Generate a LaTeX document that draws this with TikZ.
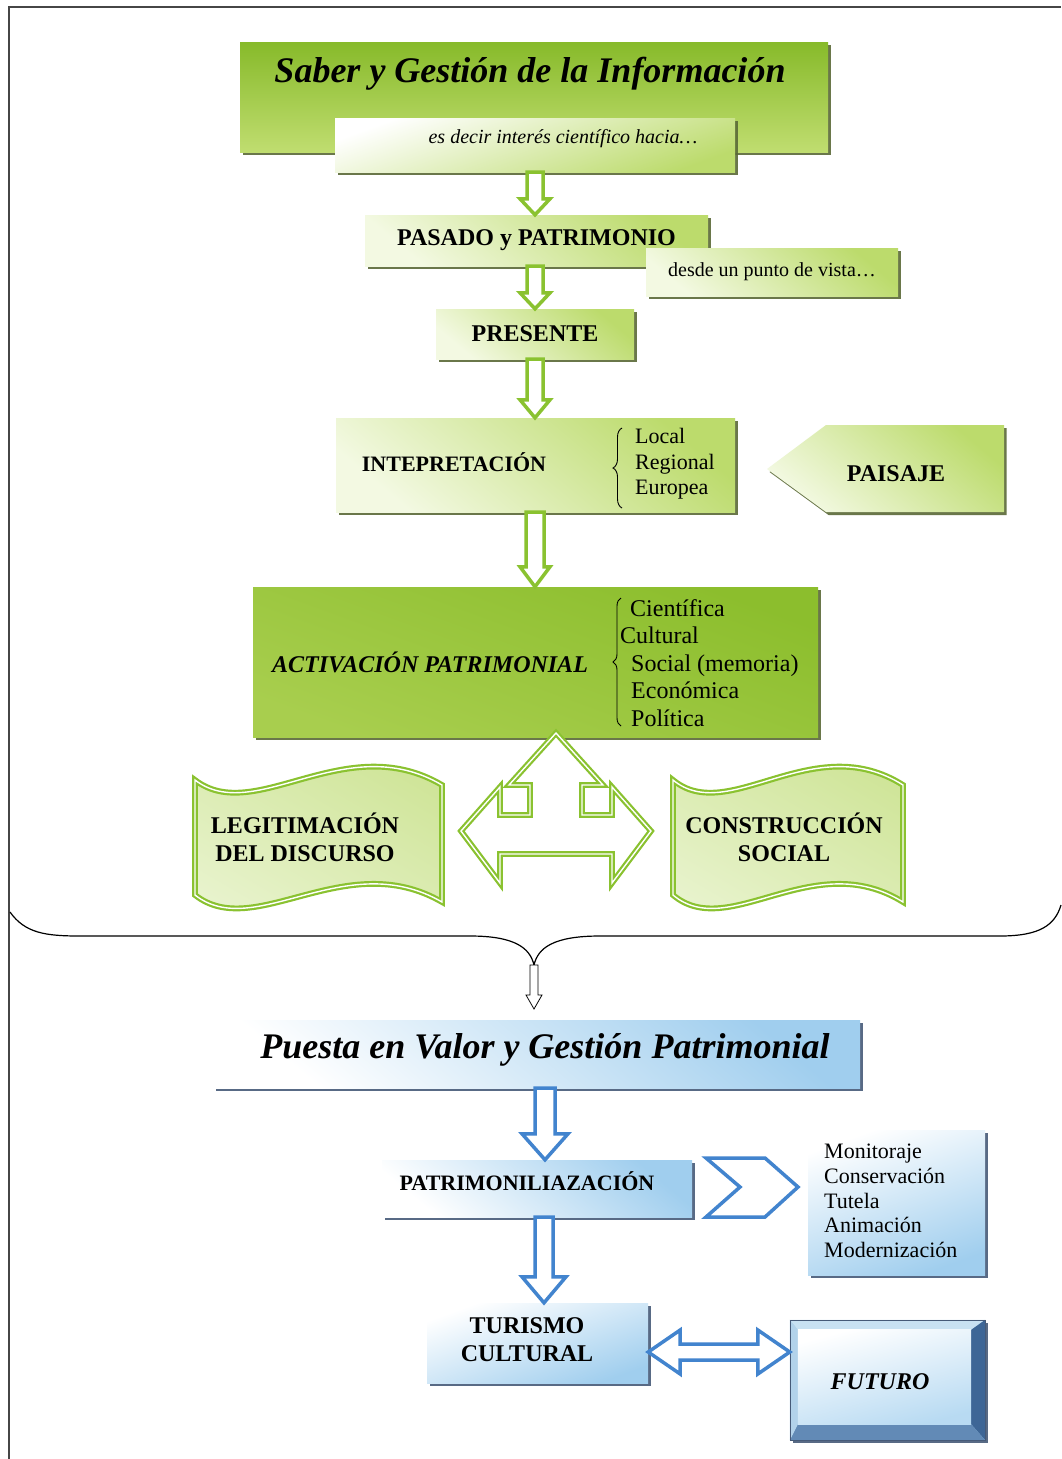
\documentclass[tikz,border=0pt]{standalone}
\usepackage{fontspec}
\setmainfont{Liberation Serif}
\usetikzlibrary{shadows,calc,decorations.pathreplacing}
\definecolor{gT}{RGB}{135,186,42}
\definecolor{gB}{RGB}{192,221,112}
\definecolor{gA}{RGB}{140,190,45}
\definecolor{gA2}{RGB}{168,206,78}
\definecolor{gM}{RGB}{188,219,108}
\definecolor{gL}{RGB}{243,249,226}
\definecolor{gBan}{RGB}{206,228,150}
\definecolor{gBan2}{RGB}{232,243,205}
\definecolor{gsh}{RGB}{90,105,55}
\definecolor{gline}{RGB}{138,194,48}
\definecolor{bline}{RGB}{66,132,206}
\definecolor{bM}{RGB}{160,206,238}
\definecolor{bsh}{RGB}{70,90,120}
\definecolor{frm}{RGB}{70,70,70}
\definecolor{fbTop}{RGB}{200,225,242}
\definecolor{fbLeft}{RGB}{178,210,234}
\definecolor{fbRight}{RGB}{62,102,150}
\definecolor{fbBottom}{RGB}{98,138,182}
\newcommand\hdown[7]{\draw[#1] let \p1=(#2), \p2=(#3) in
  (#4pt-#5pt,\y1) -- (#4pt-#5pt,\y2+#7pt) -- (#4pt-#6pt,\y2+#7pt) -- (#4pt,\y2)
  -- (#4pt+#6pt,\y2+#7pt) -- (#4pt+#5pt,\y2+#7pt) -- (#4pt+#5pt,\y1) -- cycle;}
\newcommand\bannerpath[2]{(#1,780) .. controls ({#1+0.243*#2},826) and ({#1+0.607*#2},728) .. ({#1+#2},785)
  -- ({#1+#2},902) .. controls ({#1+0.607*#2},846) and ({#1+0.243*#2},942) .. (#1,895) -- cycle}
\begin{document}
\begin{tikzpicture}[x=1pt,y=-1pt,
  gshadow/.style={drop shadow={shadow xshift=2.5pt,shadow yshift=-3pt,fill=gsh,opacity=.9}},
  bshadow/.style={drop shadow={shadow xshift=2.5pt,shadow yshift=-3pt,fill=bsh,opacity=.9}},
  darkgreen/.style={rectangle,inner sep=0pt,gshadow,top color=gT,bottom color=gB},
  actbox/.style={rectangle,inner sep=0pt,gshadow,top color=gA,bottom color=gA2,shading angle=-20},
  lightgreen/.style={rectangle,inner sep=0pt,gshadow,top color=gM,bottom color=gL,shading angle=-40},
  whitegreen/.style={rectangle,inner sep=0pt,gshadow,top color=white,bottom color=gM,shading angle=20},
  lightblue/.style={rectangle,inner sep=0pt,bshadow,top color=bM,bottom color=white,shading angle=-40},
  whiteblue/.style={rectangle,inner sep=0pt,bshadow,top color=white,bottom color=bM,shading angle=20},
  txt/.style={inner sep=0pt},
  fbig/.style={font=\fontsize{36}{40}\selectfont\bfseries\itshape},
  fbold/.style={font=\fontsize{24}{28}\selectfont\bfseries},
  fboldsm/.style={font=\fontsize{22}{26}\selectfont\bfseries},
  garrow/.style={draw=gline,line width=3.5pt,fill=white,line join=miter},
  barrow/.style={draw=bline,line width=3.5pt,fill=white,line join=miter},
  karrow/.style={draw=black,line width=0.8pt,fill=white},
  dgline/.style={draw=gline,line width=2.2pt,double=white,double distance=1.4pt,line join=miter},
  bracestyle/.style={draw=black,line width=0.9pt,decorate,decoration={brace,amplitude=#1}}
]
\useasboundingbox (0,0) rectangle (1061,1459);
\fill[white] (0,0) rectangle (1061,1459);
% frame
\draw[frm,line width=2.2pt] (9,1459) -- (9,7) -- (1061,7);

% ---- top part (green)
\node[darkgreen,minimum width=588pt,minimum height=110pt] (titlebox) at (534,97) {};
\node[txt,fbig] (titletext) at (530,74) {Saber y Gestión de la Información};
\node[whitegreen,minimum width=400pt,minimum height=54pt] (esdecir) at (535,145) {};
\node[txt,font=\fontsize{20}{24}\selectfont\itshape] (esdecirtext) at (563,139) {es decir interés científico hacia…};

\node[lightgreen,minimum width=343pt,minimum height=51pt,fbold] (pasado) at (536.5,240.5) {PASADO y PATRIMONIO};
\node[lightgreen,minimum width=252pt,minimum height=48pt,font=\fontsize{20}{24}\selectfont] (desde) at (772,272) {desde un punto de vista…};
\node[lightgreen,minimum width=198pt,minimum height=50pt,fbold] (presente) at (535,334) {PRESENTE};

\node[lightgreen,minimum width=399pt,minimum height=94pt] (intep) at (535.5,465) {};
\node[txt,fboldsm] (inteptext) at (454,462) {INTEPRETACIÓN};
\node[txt,anchor=west,align=left,font=\fontsize{22}{25.5}\selectfont] (escalas) at (635,464) {Local\\Regional\\Europea};
\draw[bracestyle=9pt] (622,508) -- (622,428);

\path[gshadow,top color=gM,bottom color=gL,shading angle=-40] (767,469) -- (826,425) -- (1004,425) -- (1004,512) -- (826,512) -- cycle;
\node[txt,fbold] (paisaje) at (896,474) {PAISAJE};

\node[actbox,minimum width=565pt,minimum height=150pt] (activ) at (535.5,662) {};
\node[txt,fbold,font=\fontsize{24}{28}\selectfont\bfseries\itshape] (activtext) at (430,662) {ACTIVACIÓN PATRIMONIAL};
\draw[bracestyle=8pt] (621,726) -- (621,598);
\node[txt,anchor=base west,font=\fontsize{24}{28}\selectfont] (cien) at (630,616) {Científica};
\node[txt,anchor=base west,font=\fontsize{24}{28}\selectfont] (cult) at (620,643) {Cultural};
\node[txt,anchor=base west,font=\fontsize{24}{28}\selectfont] (soc) at (631,671) {Social (memoria)};
\node[txt,anchor=base west,font=\fontsize{24}{28}\selectfont] (eco) at (631,698) {Económica};
\node[txt,anchor=base west,font=\fontsize{24}{28}\selectfont] (pol) at (631,726) {Política};

% green arrows
\hdown{garrow}{esdecir.south}{pasado.north}{535}{8}{15}{16}
\hdown{garrow}{pasado.south}{presente.north}{535}{8}{15}{16}
\hdown{garrow}{presente.south}{intep.north}{535}{8}{15}{18}
\hdown{garrow}{intep.south}{activ.north}{535}{9}{15}{20}

% banners
\path[dgline,top color=gBan,bottom color=gBan2,shading angle=-30] \bannerpath{195}{247};
\node[txt,fbold,align=center,font=\fontsize{24}{28}\selectfont\bfseries] (legit) at (305,837) {LEGITIMACIÓN\\DEL DISCURSO};
\path[dgline,top color=gBan,bottom color=gBan2,shading angle=-30] \bannerpath{673}{230};
\node[txt,fbold,align=center,font=\fontsize{24}{28}\selectfont\bfseries] (constr) at (784,837) {CONSTRUCCIÓN\\SOCIAL};

% three-way arrow
\coordinate (tw) at (556,733);
\draw[dgline,fill=white,shift={(tw)}] (0,0) -- (-47,52) -- (-26,52) -- (-26,82) -- (-56,82) -- (-56,54) -- (-95,98)
  -- (-56,150) -- (-56,121) -- (56,121) -- (56,150) -- (95,98) -- (56,54) -- (56,82) -- (26,82) -- (26,52) -- (47,52) -- cycle;

% big brace
\coordinate (bt) at (534,965);
\coordinate (at) at (534,1009);
\draw[line width=1.2pt] (10,912) .. controls (25,933) and (45,936) .. (80,936) -- (470,936)
  .. controls (515,936) and (530,948) .. (bt) .. controls (538,948) and (553,936) .. (600,936)
  -- (1000,936) .. controls (1040,936) and (1055,925) .. (1061,905);
\hdown{karrow}{bt}{at}{534}{4}{8}{14}

% ---- bottom part (blue)
\node[lightblue,minimum width=647pt,minimum height=68pt] (puesta) at (536.5,1054) {};
\node[txt,fbig] (puestatext) at (545,1050) {Puesta en Valor y Gestión Patrimonial};

\node[lightblue,minimum width=310pt,minimum height=57pt] (patri) at (537,1188.5) {};
\node[txt,fboldsm] (patritext) at (527,1181) {PATRIMONILIAZACIÓN};

\node[whiteblue,minimum width=177pt,minimum height=145pt] (lista) at (896.5,1202.5) {};
\node[txt,anchor=west,align=left,font=\fontsize{22}{24.75}\selectfont] (listatext) at (824,1201) {Monitoraje\\Conservación\\Tutela\\Animación\\Modernización};

\draw[barrow,fill=none,shift={(0,0)}] (706,1158) -- (765,1158) -- (798,1187) -- (765,1217) -- (706,1217) -- (740,1187) -- cycle;

\node[whiteblue,minimum width=221pt,minimum height=80pt] (turismo) at (537.5,1343) {};
\node[txt,fbold,align=center] (turismotext) at (527,1340) {TURISMO\\CULTURAL};

\node[inner sep=0pt,minimum width=195pt,minimum height=120pt,bshadow,fill=bM] (futuro) at (887.5,1380) {};
\fill[fbTop] (futuro.north west) -- (futuro.north east) -- ($(futuro.north east)+(-14,10)$) -- ($(futuro.north west)+(8,10)$) -- cycle;
\fill[fbRight] (futuro.north east) -- (futuro.south east) -- ($(futuro.south east)+(-14,-16)$) -- ($(futuro.north east)+(-14,10)$) -- cycle;
\fill[fbBottom] (futuro.south east) -- (futuro.south west) -- ($(futuro.south west)+(8,-16)$) -- ($(futuro.south east)+(-14,-16)$) -- cycle;
\fill[fbLeft] (futuro.south west) -- (futuro.north west) -- ($(futuro.north west)+(8,10)$) -- ($(futuro.south west)+(8,-16)$) -- cycle;
\shade[top color=white,bottom color=bM!75!white,shading angle=15] ($(futuro.north west)+(8,10)$) rectangle ($(futuro.south east)+(-14,-16)$);
\draw[bsh,line width=0.6pt] (futuro.north west) rectangle (futuro.south east);
\node[txt,fbold,font=\fontsize{24}{28}\selectfont\bfseries\itshape] (futurotext) at (880,1382) {FUTURO};

% blue arrows
\hdown{barrow}{puesta.south}{patri.north}{545}{10}{23}{26}
\hdown{barrow}{patri.south}{turismo.north}{544}{9}{22}{26}
\draw[barrow] let \p1=(turismo.east), \p2=(futuro.west), \p3=(0,1352) in
  (\x1,\y3) -- (\x1+32pt,\y3+22pt) -- (\x1+32pt,\y3+8pt) -- (\x2-32pt,\y3+8pt) -- (\x2-32pt,\y3+22pt) -- (\x2,\y3)
  -- (\x2-32pt,\y3-22pt) -- (\x2-32pt,\y3-8pt) -- (\x1+32pt,\y3-8pt) -- (\x1+32pt,\y3-22pt) -- cycle;
\end{tikzpicture}
\end{document}
